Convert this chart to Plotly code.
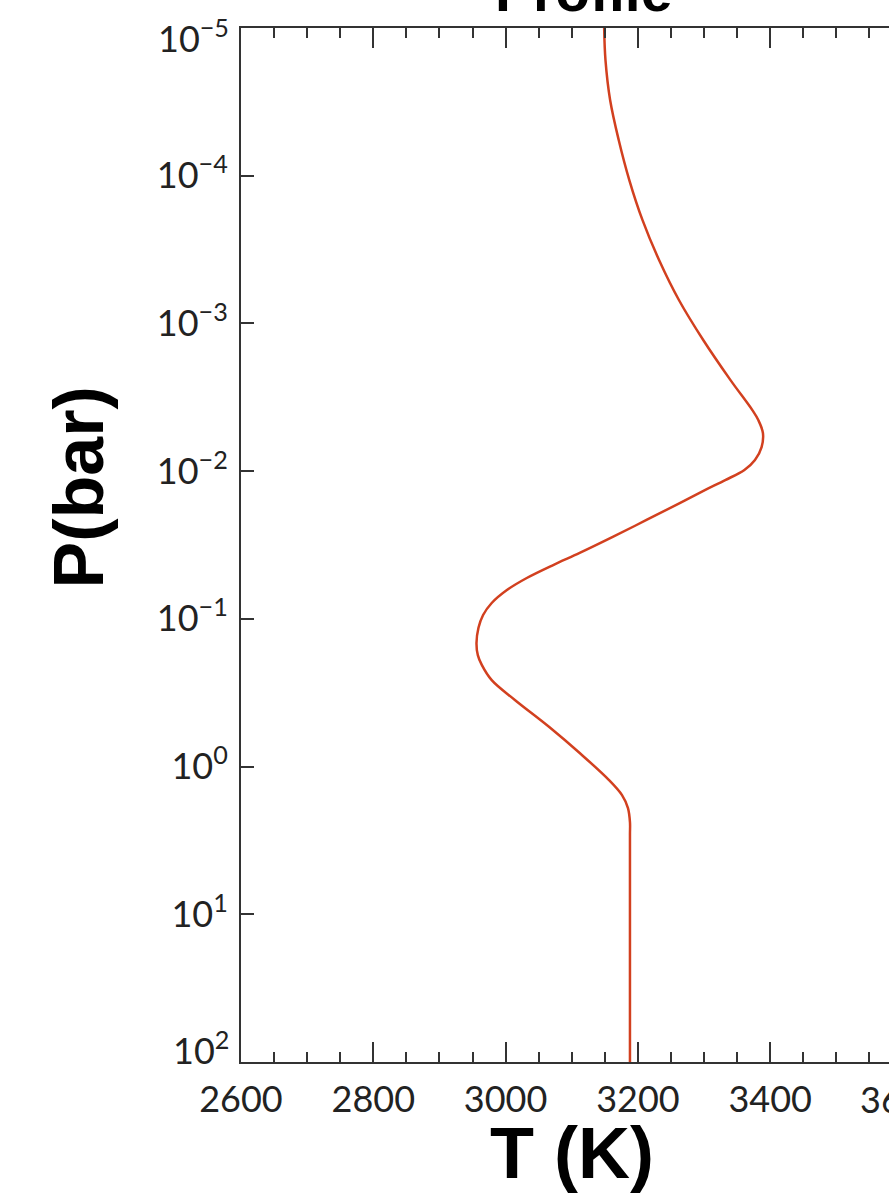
import plotly.graph_objects as go

# Temperature-pressure profile
temperature_k = [3149, 3151, 3158, 3171, 3187, 3207, 3232, 3262, 3299, 3340,
                 3373, 3382, 3389, 3387, 3377, 3361, 3332, 3302, 3264, 3213,
                 3162, 3112, 3072, 3032, 3002, 2979, 2966, 2959, 2956, 2958,
                 2964, 2979, 3014, 3066, 3112, 3156, 3176, 3185, 3188, 3188,
                 3188]
pressure_bar = [1.00e-5, 1.65e-5, 3.07e-5, 5.73e-5, 1.07e-4, 2.00e-4, 3.72e-4,
                6.94e-4, 1.30e-3, 2.42e-3, 3.86e-3, 4.51e-3, 5.52e-3, 6.87e-3,
                8.41e-3, 9.82e-3, 1.15e-2, 1.34e-2, 1.64e-2, 2.14e-2, 2.79e-2,
                3.58e-2, 4.32e-2, 5.29e-2, 6.38e-2, 7.81e-2, 9.42e-2, 1.15e-1,
                1.46e-1, 1.76e-1, 2.05e-1, 2.60e-1, 3.54e-1, 5.40e-1, 8.10e-1,
                1.23, 1.56, 1.91, 2.38, 2.91, 100.0]

x_ticks = [2600, 2800, 3000, 3200, 3400]
y_ticks = [1e-5, 1e-4, 1e-3, 1e-2, 1e-1, 1e0, 1e1, 1e2]
y_tick_text = ["10<sup>−5</sup>", "10<sup>−4</sup>", "10<sup>−3</sup>",
               "10<sup>−2</sup>", "10<sup>−1</sup>", "10<sup>0</sup>",
               "10<sup>1</sup>", "10<sup>2</sup>"]

AXIS_COLOR = "#333333"
TICK_FONT = dict(family="Lato, 'Liberation Sans', sans-serif", size=36, color="#222222")
TITLE_FONT = dict(family="'Liberation Sans', Arial, sans-serif", size=72, color="#000000")

fig = go.Figure()
fig.add_trace(go.Scatter(
    x=temperature_k, y=pressure_bar, mode="lines",
    line=dict(color="#d2401f", width=2.5, shape="spline", smoothing=1.0),
    hoverinfo="skip", showlegend=False,
))

# the outermost decade labels sit inside the frame, so they are drawn apart
axis_tick_text = [""] + y_tick_text[1:-1] + [""]

fig.update_xaxes(
    range=[2600, 3579.6], showgrid=False, zeroline=False,
    showline=True, linecolor=AXIS_COLOR, linewidth=2, mirror="ticks",
    ticks="inside", ticklen=20, tickwidth=2, tickcolor=AXIS_COLOR,
    tickvals=x_ticks, ticktext=[str(v) for v in x_ticks],
    tickfont=TICK_FONT, ticklabelstandoff=5,
    minor=dict(ticks="inside", ticklen=10, tickwidth=2, tickcolor=AXIS_COLOR,
               dtick=50, showgrid=False),
)
fig.update_yaxes(
    type="log", range=[2, -5], showgrid=False, zeroline=False,
    showline=True, linecolor=AXIS_COLOR, linewidth=2, mirror=False,
    ticks="inside", ticklen=13, tickwidth=2, tickcolor=AXIS_COLOR,
    tickvals=y_ticks, ticktext=axis_tick_text, tickfont=TICK_FONT,
    ticklabelstandoff=4,
)

for log_val, txt, shift in [(-5, y_tick_text[0], -8), (2, y_tick_text[-1], 14)]:
    fig.add_annotation(text=txt, xref="paper", yref="y", x=0, y=log_val,
                       xanchor="right", yanchor="middle", xshift=-10, yshift=shift,
                       showarrow=False, font=TICK_FONT)

# titles and the clipped 3600 label beyond the right edge
fig.add_annotation(text="<b>Profile</b>", xref="paper", yref="paper",
                   x=0.528, y=1.003, xanchor="center", yanchor="bottom",
                   showarrow=False, font=dict(TITLE_FONT, size=57))
fig.add_annotation(text="<b>T (K)</b>", xref="paper", yref="paper",
                   x=0.511, y=-0.1286, xanchor="center", yanchor="bottom",
                   showarrow=False, font=TITLE_FONT)
fig.add_annotation(text="<b>P(bar)</b>", xref="paper", yref="paper",
                   x=-0.25, y=0.5556, xanchor="center", yanchor="middle",
                   textangle=-90, showarrow=False, font=dict(TITLE_FONT, size=70))
fig.add_annotation(text="3600", xref="paper", yref="paper",
                   x=1.0208, y=-0.0362, xanchor="center", yanchor="middle",
                   showarrow=False, font=TICK_FONT)

fig.update_layout(
    width=889, height=1198,
    margin=dict(l=241, r=0, t=28, b=136),
    paper_bgcolor="white", plot_bgcolor="white",
)

fig.write_html("out.html")
